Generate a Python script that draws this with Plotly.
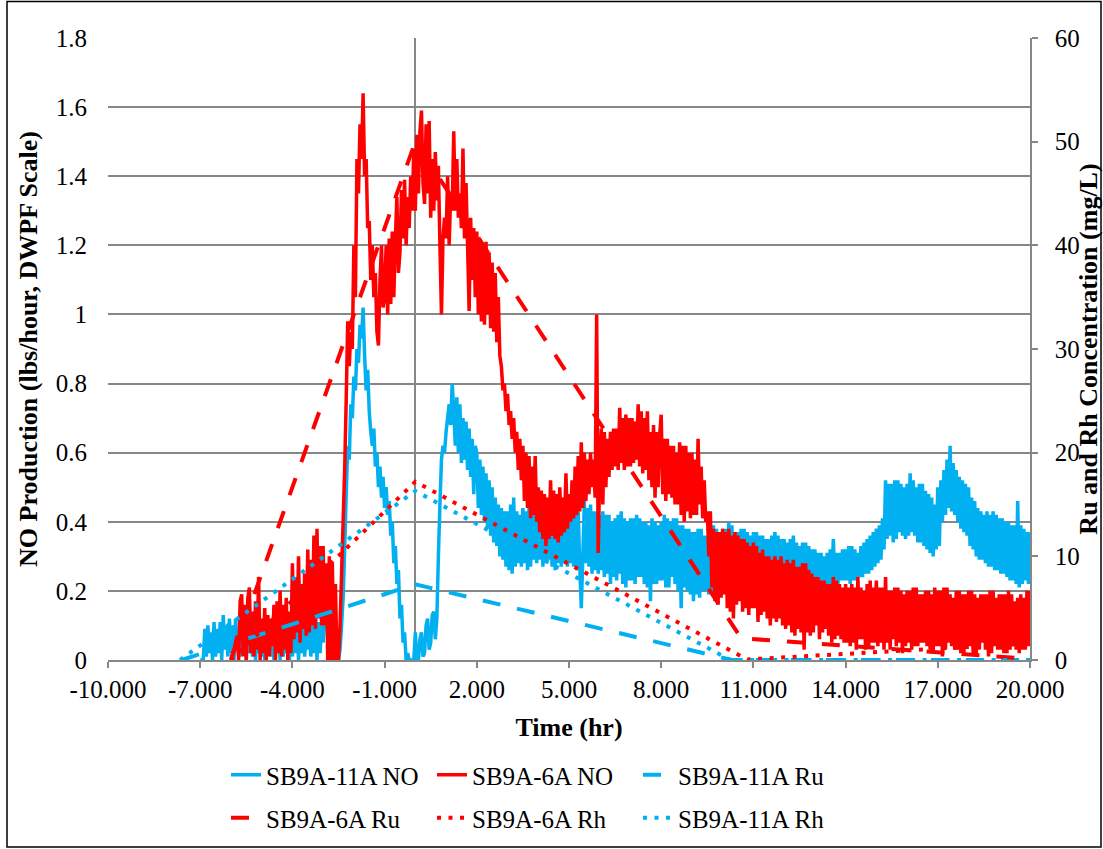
import numpy as np
import plotly.graph_objects as go

# ---------------- data ----------------
# NO production (lbs/hour, DWPF scale), logged every 0.05 hr
no_dt = 0.05
no11_t0 = -7.0   # SB9A-11A NO log start (hr)
no6_t0 = -6.0    # SB9A-6A NO log start (hr)

no11 = [
    0.00, 0.00, 0.00, 0.09, 0.01, 0.10, 0.02, 0.08, 0.00, 0.11,
    0.01, 0.09, 0.02, 0.11, 0.00, 0.13, 0.03, 0.10, 0.01, 0.12,
    0.02, 0.10, 0.00, 0.12, 0.03, 0.09, 0.01, 0.10, 0.02, 0.08,
    0.00, 0.10, 0.02, 0.09, 0.01, 0.11, 0.00, 0.09, 0.02, 0.08,
    0.01, 0.10, 0.00, 0.09, 0.02, 0.11, 0.01, 0.08, 0.00, 0.10,
    0.02, 0.09, 0.00, 0.11, 0.01, 0.10, 0.02, 0.09, 0.00, 0.10,
    0.01, 0.11, 0.02, 0.09, 0.00, 0.12, 0.02, 0.10, 0.01, 0.09,
    0.03, 0.12, 0.01, 0.10, 0.02, 0.13, 0.00, 0.11, 0.02, 0.10,
    0.05, 0.15, 0.19, 0.06, 0.17, 0.03, 0.14, 0.02, 0.08, 0.00,
    0.00, 0.03, 0.10, 0.18, 0.32, 0.48, 0.62, 0.58, 0.74, 0.70,
    0.82, 0.78, 0.90, 0.86, 0.97, 0.93, 1.02, 0.88, 0.78, 0.84,
    0.72, 0.66, 0.62, 0.67, 0.56, 0.60, 0.50, 0.56, 0.47, 0.53,
    0.44, 0.50, 0.42, 0.46, 0.36, 0.40, 0.28, 0.33, 0.22, 0.26,
    0.12, 0.16, 0.05, 0.08, 0.00, 0.02, 0.00, 0.00, 0.00, 0.00,
    0.08, 0.00, 0.00, 0.06, 0.08, 0.01, 0.02, 0.10, 0.12, 0.03,
    0.05, 0.13, 0.14, 0.06, 0.12, 0.30, 0.45, 0.58, 0.62, 0.60,
    0.66, 0.70, 0.74, 0.68, 0.80, 0.72, 0.62, 0.76, 0.60, 0.74,
    0.57, 0.70, 0.58, 0.69, 0.55, 0.67, 0.53, 0.64, 0.48, 0.62,
    0.60, 0.44, 0.58, 0.42, 0.56, 0.40, 0.54, 0.38, 0.52, 0.36,
    0.50, 0.34, 0.47, 0.33, 0.45, 0.30, 0.44, 0.29, 0.43, 0.27,
    0.43, 0.26, 0.45, 0.25, 0.47, 0.27, 0.43, 0.28, 0.42, 0.27,
    0.44, 0.28, 0.43, 0.26, 0.44, 0.27, 0.42, 0.29, 0.43, 0.28,
    0.44, 0.29, 0.42, 0.27, 0.43, 0.28, 0.44, 0.29, 0.42, 0.27,
    0.43, 0.26, 0.44, 0.28, 0.42, 0.27, 0.41, 0.28, 0.43, 0.27,
    0.45, 0.28, 0.44, 0.27, 0.46, 0.26, 0.43, 0.27, 0.15, 0.30,
    0.46, 0.28, 0.44, 0.27, 0.45, 0.25, 0.43, 0.26, 0.43, 0.25,
    0.42, 0.26, 0.43, 0.24, 0.42, 0.25, 0.42, 0.22, 0.40, 0.24,
    0.41, 0.23, 0.42, 0.25, 0.43, 0.22, 0.41, 0.21, 0.40, 0.23,
    0.41, 0.23, 0.41, 0.22, 0.42, 0.24, 0.41, 0.24, 0.40, 0.22,
    0.40, 0.21, 0.39, 0.17, 0.41, 0.22, 0.40, 0.22, 0.39, 0.23,
    0.40, 0.23, 0.42, 0.21, 0.41, 0.21, 0.40, 0.24, 0.41, 0.22,
    0.41, 0.20, 0.39, 0.15, 0.39, 0.21, 0.38, 0.20, 0.38, 0.19,
    0.37, 0.17, 0.37, 0.19, 0.38, 0.18, 0.38, 0.20, 0.36, 0.20,
    0.36, 0.19, 0.37, 0.19, 0.39, 0.21, 0.38, 0.22, 0.37, 0.20,
    0.38, 0.20, 0.38, 0.21, 0.40, 0.22, 0.39, 0.22, 0.37, 0.21,
    0.37, 0.20, 0.38, 0.21, 0.38, 0.23, 0.37, 0.22, 0.36, 0.21,
    0.37, 0.21, 0.37, 0.22, 0.36, 0.23, 0.36, 0.24, 0.35, 0.23,
    0.35, 0.22, 0.36, 0.22, 0.37, 0.23, 0.36, 0.23, 0.35, 0.24,
    0.35, 0.24, 0.34, 0.22, 0.35, 0.22, 0.36, 0.23, 0.34, 0.23,
    0.33, 0.24, 0.34, 0.24, 0.34, 0.22, 0.33, 0.22, 0.32, 0.23,
    0.32, 0.23, 0.31, 0.22, 0.31, 0.22, 0.30, 0.21, 0.31, 0.21,
    0.32, 0.22, 0.35, 0.23, 0.31, 0.22, 0.31, 0.23, 0.32, 0.23,
    0.32, 0.23, 0.33, 0.22, 0.33, 0.23, 0.32, 0.23, 0.31, 0.24,
    0.33, 0.24, 0.34, 0.25, 0.35, 0.25, 0.36, 0.26, 0.37, 0.27,
    0.38, 0.28, 0.39, 0.29, 0.41, 0.32, 0.52, 0.35, 0.51, 0.36,
    0.51, 0.34, 0.52, 0.35, 0.52, 0.37, 0.51, 0.36, 0.50, 0.35,
    0.51, 0.36, 0.54, 0.37, 0.52, 0.36, 0.50, 0.34, 0.51, 0.34,
    0.51, 0.33, 0.49, 0.32, 0.48, 0.31, 0.47, 0.30, 0.45, 0.32,
    0.50, 0.33, 0.52, 0.40, 0.55, 0.42, 0.58, 0.44, 0.62, 0.43,
    0.57, 0.42, 0.55, 0.40, 0.53, 0.38, 0.52, 0.37, 0.51, 0.36,
    0.50, 0.33, 0.47, 0.32, 0.46, 0.30, 0.44, 0.29, 0.43, 0.29,
    0.42, 0.28, 0.43, 0.27, 0.42, 0.27, 0.43, 0.26, 0.42, 0.26,
    0.41, 0.25, 0.41, 0.25, 0.40, 0.24, 0.40, 0.23, 0.39, 0.23,
    0.39, 0.22, 0.46, 0.21, 0.39, 0.22, 0.38, 0.23, 0.37, 0.22,
    0.37,
]

no6 = [
    0.00, 0.02, 0.03, 0.05, 0.07, 0.00, 0.17, 0.19, 0.01, 0.16,
    0.00, 0.18, 0.21, 0.02, 0.14, 0.01, 0.17, 0.03, 0.24, 0.00,
    0.12, 0.02, 0.15, 0.00, 0.13, 0.01, 0.12, 0.04, 0.16, 0.00,
    0.17, 0.02, 0.20, 0.01, 0.16, 0.03, 0.18, 0.00, 0.14, 0.02,
    0.28, 0.06, 0.24, 0.08, 0.30, 0.05, 0.22, 0.09, 0.25, 0.07,
    0.32, 0.08, 0.29, 0.10, 0.36, 0.09, 0.38, 0.12, 0.33, 0.10,
    0.33, 0.10, 0.28, 0.00, 0.30, 0.00, 0.28, 0.00, 0.22, 0.00,
    0.00, 0.10, 0.25, 0.40, 0.55, 0.75, 0.98, 0.85, 0.95, 0.90,
    1.20, 1.05, 1.45, 1.35, 1.55, 1.45, 1.64, 1.40, 1.45, 1.25,
    1.27, 1.10, 1.20, 1.05, 1.12, 0.95, 0.91, 1.10, 1.20, 1.02,
    1.05, 1.20, 1.00, 1.22, 1.03, 1.24, 1.05, 1.22, 1.34, 1.12,
    1.18, 1.36, 1.22, 1.39, 1.20, 1.34, 1.25, 1.40, 1.30, 1.48,
    1.30, 1.52, 1.35, 1.53, 1.59, 1.38, 1.32, 1.55, 1.35, 1.56,
    1.28, 1.45, 1.30, 1.47, 1.33, 1.43, 1.20, 1.00, 1.22, 1.28,
    1.22, 1.40, 1.20, 1.35, 1.30, 1.53, 1.30, 1.45, 1.28, 1.35,
    1.25, 1.48, 1.22, 1.38, 1.20, 1.01, 1.28, 1.10, 1.25, 1.05,
    1.24, 1.00, 1.22, 0.98, 1.20, 0.97, 1.21, 1.00, 1.18, 0.96,
    1.15, 0.95, 1.12, 0.92, 1.05, 0.88, 0.85, 0.78, 0.80, 0.72,
    0.77, 0.68, 0.72, 0.64, 0.70, 0.60, 0.66, 0.55, 0.64, 0.52,
    0.62, 0.46, 0.60, 0.44, 0.59, 0.41, 0.56, 0.42, 0.59, 0.40,
    0.50, 0.37, 0.49, 0.35, 0.48, 0.33, 0.47, 0.35, 0.52, 0.36,
    0.49, 0.35, 0.48, 0.34, 0.50, 0.36, 0.47, 0.37, 0.54, 0.38,
    0.48, 0.40, 0.52, 0.41, 0.56, 0.42, 0.59, 0.43, 0.63, 0.44,
    0.60, 0.46, 0.58, 0.48, 0.60, 0.50, 0.58, 0.47, 1.00, 0.31,
    0.55, 0.67, 0.45, 0.66, 0.50, 0.64, 0.53, 0.66, 0.55, 0.67,
    0.56, 0.67, 0.55, 0.73, 0.57, 0.70, 0.55, 0.71, 0.56, 0.70,
    0.56, 0.70, 0.57, 0.69, 0.58, 0.74, 0.56, 0.72, 0.54, 0.70,
    0.55, 0.72, 0.52, 0.66, 0.50, 0.68, 0.47, 0.66, 0.50, 0.65,
    0.71, 0.48, 0.64, 0.46, 0.64, 0.48, 0.62, 0.47, 0.62, 0.45,
    0.60, 0.45, 0.63, 0.42, 0.62, 0.40, 0.62, 0.43, 0.60, 0.41,
    0.60, 0.42, 0.58, 0.42, 0.64, 0.45, 0.56, 0.41, 0.52, 0.40,
    0.43, 0.30, 0.43, 0.21, 0.38, 0.17, 0.37, 0.16, 0.37, 0.18,
    0.38, 0.19, 0.37, 0.15, 0.38, 0.14, 0.36, 0.12, 0.37, 0.16,
    0.36, 0.17, 0.35, 0.14, 0.35, 0.15, 0.34, 0.13, 0.33, 0.15,
    0.34, 0.15, 0.33, 0.11, 0.31, 0.13, 0.32, 0.14, 0.30, 0.12,
    0.30, 0.10, 0.29, 0.12, 0.30, 0.11, 0.29, 0.12, 0.30, 0.10,
    0.28, 0.09, 0.29, 0.10, 0.28, 0.08, 0.29, 0.07, 0.27, 0.09,
    0.27, 0.08, 0.28, 0.03, 0.28, 0.08, 0.26, 0.07, 0.25, 0.08,
    0.24, 0.10, 0.24, 0.06, 0.23, 0.08, 0.23, 0.09, 0.22, 0.07,
    0.22, 0.05, 0.24, 0.06, 0.23, 0.07, 0.22, 0.06, 0.21, 0.05,
    0.22, 0.05, 0.21, 0.04, 0.22, 0.05, 0.21, 0.03, 0.24, 0.06,
    0.21, 0.06, 0.20, 0.03, 0.22, 0.04, 0.23, 0.05, 0.21, 0.05,
    0.23, 0.04, 0.21, 0.05, 0.21, 0.03, 0.24, 0.05, 0.20, 0.03,
    0.20, 0.06, 0.21, 0.04, 0.21, 0.05, 0.20, 0.02, 0.19, 0.04,
    0.20, 0.05, 0.20, 0.03, 0.21, 0.04, 0.21, 0.04, 0.19, 0.05,
    0.19, 0.05, 0.20, 0.04, 0.20, 0.03, 0.19, 0.02, 0.21, 0.04,
    0.20, 0.04, 0.20, 0.01, 0.21, 0.03, 0.21, 0.05, 0.19, 0.04,
    0.18, 0.03, 0.20, 0.03, 0.20, 0.02, 0.19, 0.02, 0.19, 0.04,
    0.20, 0.04, 0.20, 0.02, 0.19, 0.02, 0.18, 0.03, 0.19, 0.05,
    0.19, 0.03, 0.19, 0.01, 0.20, 0.02, 0.20, 0.04, 0.18, 0.03,
    0.19, 0.03, 0.19, 0.02, 0.19, 0.02, 0.20, 0.03, 0.19, 0.04,
    0.17, 0.03, 0.18, 0.02, 0.19, 0.03, 0.18, 0.03, 0.20, 0.04,
    0.20,
]

# Ru and Rh concentrations (mg/L), secondary axis
ru11_t = [-7.6, 0.0, 10.3, 20.0]
ru11 = [0.0, 7.3, 0.0, 0.0]
ru6_t = [-6.0, 0.0, 10.6, 20.0]
ru6 = [0.0, 50.0, 2.1, 0.1]
rh6_t = [-6.0, 0.0, 10.8, 20.0]
rh6 = [0.0, 17.2, 0.05, 1.6]
rh11_t = [-7.66, 0.0, 10.25, 20.0]
rh11 = [0.0, 16.3, 0.0, 0.0]

# x-axis tick values / labels
x_tickvals = [-10, -7, -4, -1, 2, 5, 8, 11, 14, 17, 20]
x_ticktext = ["-10.000", "-7.000", "-4.000", "-1.000", "2.000", "5.000",
              "8.000", "11.000", "14.000", "17.000", "20.000"]

# ---------------- figure ----------------
BLUE = "#00B0F0"
RED = "#FF0000"
GRID = "#878787"
FONT = "Times New Roman, Liberation Serif, serif"

t11 = np.round(no11_t0 + no_dt * np.arange(len(no11)), 3)
t6 = np.round(no6_t0 + no_dt * np.arange(len(no6)), 3)

DASH = "18px,17px"
DOT = "4px,7.5px"
NO_W = 3.5
RU_W = 4

fig = go.Figure()
fig.add_trace(go.Scatter(x=t11, y=no11, name="SB9A-11A NO", mode="lines",
                         line=dict(color=BLUE, width=NO_W, simplify=False), legend="legend"))
fig.add_trace(go.Scatter(x=t6, y=no6, name="SB9A-6A NO", mode="lines",
                         line=dict(color=RED, width=NO_W, simplify=False), legend="legend"))
fig.add_trace(go.Scatter(x=ru11_t, y=ru11, name="SB9A-11A Ru", mode="lines", yaxis="y2",
                         line=dict(color=BLUE, width=RU_W, dash=DASH), legend="legend"))
fig.add_trace(go.Scatter(x=ru6_t, y=ru6, name="SB9A-6A Ru", mode="lines", yaxis="y2",
                         line=dict(color=RED, width=RU_W, dash=DASH), legend="legend2"))
fig.add_trace(go.Scatter(x=rh6_t, y=rh6, name="SB9A-6A Rh", mode="lines", yaxis="y2",
                         line=dict(color=RED, width=RU_W, dash=DOT), legend="legend2"))
fig.add_trace(go.Scatter(x=rh11_t, y=rh11, name="SB9A-11A Rh", mode="lines", yaxis="y2",
                         line=dict(color=BLUE, width=RU_W, dash=DOT), legend="legend2"))

W, H = 1103, 849
L, R, T, B = 108, 1030, 38, 660   # plot area in pixels


def px_x(p):
    return (p - L) / (R - L)


def px_y(p):
    return (B - p) / (B - T)


tickfont = dict(family=FONT, size=25, color="black")
legfont = dict(family=FONT, size=25, color="black")
titlefont = dict(family=FONT, size=26, color="black", weight="bold")

legend_common = dict(orientation="h", font=legfont, bgcolor="rgba(0,0,0,0)",
                     entrywidth=161, entrywidthmode="pixels",
                     xanchor="left", yanchor="middle", traceorder="normal",
                     itemclick=False, itemdoubleclick=False)

fig.update_layout(
    width=W, height=H,
    margin=dict(l=L, r=W - R, t=T, b=H - B, pad=0, autoexpand=False),
    paper_bgcolor="white", plot_bgcolor="white",
    font=dict(family=FONT, color="black"),
    showlegend=True,
    legend=dict(x=px_x(226), y=px_y(775), **legend_common),
    legend2=dict(x=px_x(226), y=px_y(818), **legend_common),
    xaxis=dict(
        range=[-10, 20], tickmode="array", tickvals=x_tickvals, ticktext=x_ticktext,
        showgrid=False, zeroline=True, zerolinecolor=GRID, zerolinewidth=1.5,
        showline=True, linecolor=GRID, linewidth=1.5,
        ticks="outside", ticklen=6, tickwidth=1.5, tickcolor=GRID,
        tickfont=tickfont, automargin=False,
        title=dict(text="Time (hr)", font=titlefont, standoff=16),
    ),
    yaxis=dict(
        range=[0, 1.8], dtick=0.2, tick0=0,
        showgrid=True, gridcolor=GRID, gridwidth=1.5,
        zeroline=False, showline=False, ticks="", ticklabelstandoff=20,
        tickfont=tickfont, automargin=False,
        title=dict(text="NO Production (lbs/hour, DWPF Scale)", font=titlefont, standoff=10),
    ),
    yaxis2=dict(
        range=[0, 60], dtick=10, tick0=0, overlaying="y", side="right",
        showgrid=False, zeroline=False, showline=True, linecolor=GRID, linewidth=1.5,
        ticks="outside", ticklen=6, tickwidth=1.5, tickcolor=GRID,
        ticklabelstandoff=12, automargin=False,
        tickfont=tickfont,
        title=dict(text="Ru and Rh Concentration (mg/L)", font=titlefont, standoff=10),
    ),
    shapes=[dict(type="rect", xref="paper", yref="paper",
                 x0=px_x(7), x1=px_x(1101), y0=px_y(847), y1=px_y(1.5),
                 line=dict(color="black", width=1.5), fillcolor="rgba(0,0,0,0)",
                 layer="below")],
)

fig.write_html("out.html")
